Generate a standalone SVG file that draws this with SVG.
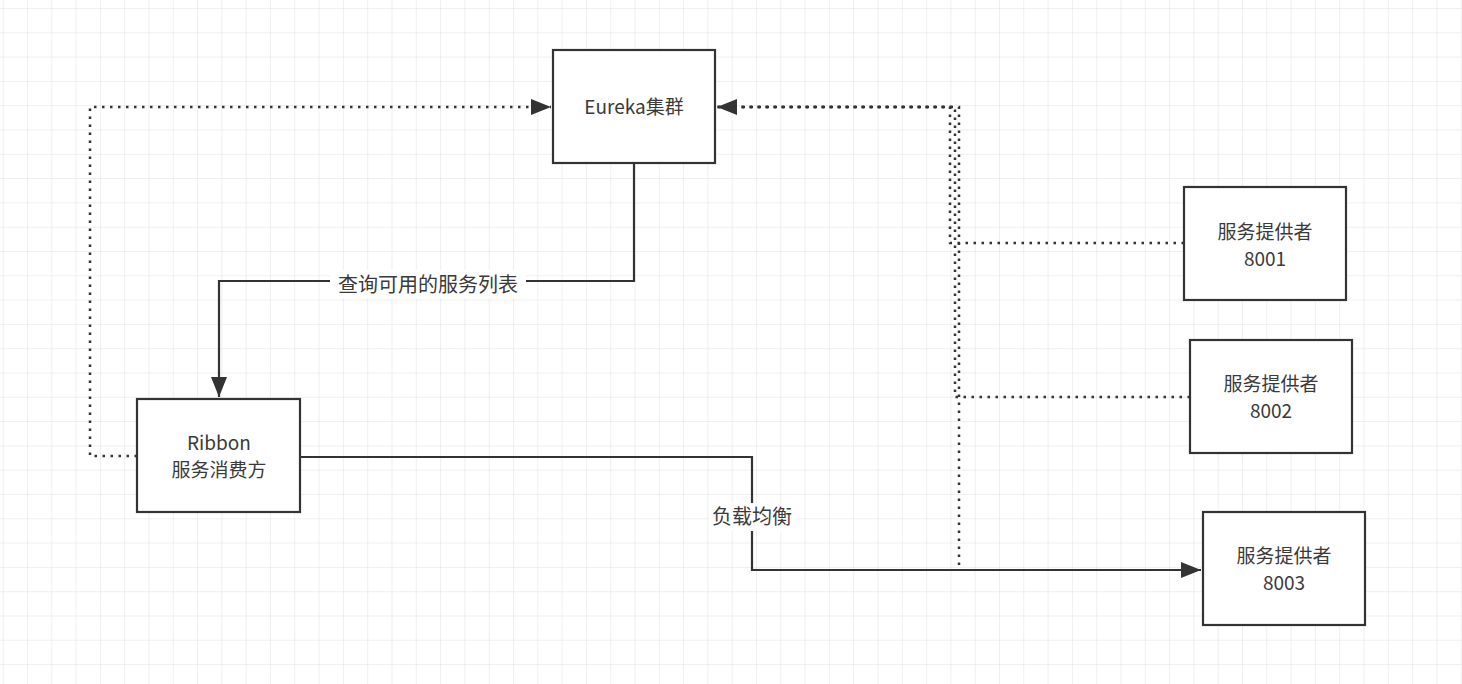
<svg xmlns="http://www.w3.org/2000/svg" width="1462" height="684" viewBox="0 0 1462 684">
<style>
.node rect{fill:#fff;stroke:#333;stroke-width:2.2}
text{font-family:"Noto Sans CJK SC","Noto Sans",sans-serif;font-size:20px;fill:#3a3a3a;text-anchor:middle}
.node text{font-size:19px}
.solid{fill:none;stroke:#333;stroke-width:2.2}
.dot{fill:none;stroke:#333;stroke-width:2.5;stroke-dasharray:2.5 5.5}
.lbl{fill:#fff}
</style>
<defs>
<pattern id="grid" x="2.7" y="8" width="24.3" height="24.3" patternUnits="userSpaceOnUse">
<path d="M0 0H24.3M0 0V24.3" fill="none" stroke="#e0e0e0" stroke-width="1"/>
</pattern>
<marker id="arr" viewBox="0 0 20 16" refX="20" refY="8" markerWidth="20" markerHeight="16" markerUnits="userSpaceOnUse" orient="auto">
<path d="M0 0L20 8L0 16z" fill="#333"/>
</marker>
</defs>
<rect width="1462" height="684" fill="#fff"/>
<rect width="1462" height="684" fill="url(#grid)"/>
<g id="connectors">
<path class="dot" d="M137 456H90V107H551" marker-end="url(#arr)"/>
<path class="dot" d="M1184 243H950V107H717" marker-end="url(#arr)"/>
<path class="dot" d="M1190 397H955V107H717"/>
<path class="dot" d="M959 565V107H717"/>
<path class="solid" d="M634 163V281H219V397" marker-end="url(#arr)"/>
<path class="solid" d="M300 457H752V570H1201" marker-end="url(#arr)"/>
<rect class="lbl" x="330" y="270" width="196" height="28"/>
<text x="428" y="292">查询可用的服务列表</text>
<rect class="lbl" x="709" y="503" width="88" height="28"/>
<text x="752" y="524">负载均衡</text>
</g>
<g id="eureka" class="node"><rect x="553" y="50" width="162" height="113"/><text x="634" y="114">Eureka集群</text></g>
<g id="ribbon" class="node"><rect x="137" y="399" width="163" height="113"/><text x="219" y="450">Ribbon</text><text x="219" y="477">服务消费方</text></g>
<g id="p8001" class="node"><rect x="1184" y="187" width="162" height="113"/><text x="1265" y="239">服务提供者</text><text x="1265" y="266">8001</text></g>
<g id="p8002" class="node"><rect x="1190" y="340" width="162" height="113"/><text x="1271" y="391">服务提供者</text><text x="1271" y="418">8002</text></g>
<g id="p8003" class="node"><rect x="1203" y="512" width="162" height="113"/><text x="1284" y="563">服务提供者</text><text x="1284" y="590">8003</text></g>
</svg>
